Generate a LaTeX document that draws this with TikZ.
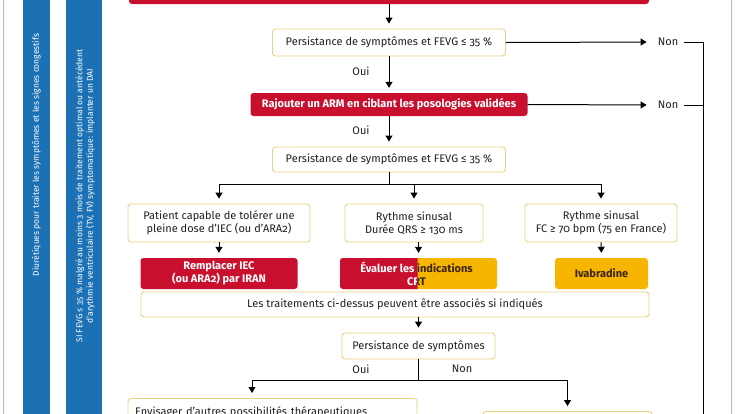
\documentclass[tikz,border=0pt]{standalone}
\usepackage{fontspec}
\setmainfont{Fira Sans}[Numbers=OldStyle]
\usetikzlibrary{arrows.meta}
\definecolor{rougeic}{RGB}{200,16,46}
\definecolor{jauneic}{RGB}{246,182,0}
\definecolor{bordic}{RGB}{234,208,130}
\definecolor{bleuic}{RGB}{28,112,180}
\definecolor{cadreic}{RGB}{160,192,220}
\definecolor{texteic}{RGB}{35,31,32}
\definecolor{brunic}{RGB}{60,35,10}

\begin{document}
\begin{tikzpicture}[x=1pt, y=-1pt,
  qbox/.style={draw=bordic, fill=white, line width=0.9pt, rounded corners=3pt,
               text=texteic, font=\fontsize{11}{13}\selectfont, align=center, inner sep=2pt},
  redb/.style={fill=rougeic, text=white, rounded corners=3pt,
               font=\fontsize{11}{13}\selectfont\bfseries, align=center, inner sep=2pt},
  orab/.style={fill=jauneic, text=brunic, rounded corners=3pt,
               font=\fontsize{11}{13}\selectfont\bfseries, align=center, inner sep=2pt},
  lab/.style={text=texteic, font=\fontsize{11}{13}\selectfont, inner sep=0pt},
  non/.style={lab, inner xsep=6pt},
  sidet/.style={rotate=90, text=white, font=\fontsize{8.5}{10.5}\selectfont, align=center, inner sep=0pt},
  arr/.style={-{Triangle[length=6pt, width=7pt]}, line width=1pt, shorten >=5pt},
  ligne/.style={line width=1pt},
]
\useasboundingbox (0,0) rectangle (735,413);
\clip (0,0) rectangle (735,413);

% Cadre et bandeaux lateraux
\draw[cadreic, line width=1pt] (3,-5) -- (3,420);
\draw[cadreic, line width=1pt] (731,-5) -- (731,420);
\fill[bleuic] (23,-5) rectangle (50,420);
\fill[bleuic] (66,-5) rectangle (102,420);
\node[sidet] (diur) at (36.5,155) {Diurétiques pour traiter les symptômes et les signes congestifs};
\node[sidet] (dai) at (85,196)
  {SI FEVG ≤ 35 \% malgré au moins 3 mois de traitement optimal ou antécédent\\
   d’arythmie ventriculaire (TV, FV) symptomatique: implanter un DAI};

% Boite rouge du haut (coupee)
\node[redb, minimum width=520, minimum height=22] (haut) at (389,-7) {};

% Premiere question
\node[qbox, minimum width=233, minimum height=27] (pers1) at (389,42.5)
  {Persistance de symptômes et FEVG ≤ 35 \%};
\node[non] (non1) at (668,42) {Non};

% ARM
\node[redb, minimum width=277, minimum height=23] (arm) at (389,104.5)
  {Rajouter un ARM en ciblant les posologies validées};
\node[non] (non2) at (668,105) {Non};
\node[lab] (oui1) at (361,71) {Oui};
\node[lab] (oui2) at (361,130) {Oui};

% Deuxieme question
\node[qbox, minimum width=233, minimum height=25] (pers2) at (389,159.5)
  {Persistance de symptômes et FEVG ≤ 35 \%};
\coordinate (j1) at (389,184);

% Trois branches
\node[qbox, minimum width=182, minimum height=38] (pat) at (219,223)
  {Patient capable de tolérer une\\pleine dose d’IEC (ou d’ARA2)};
\node[qbox, minimum width=138, minimum height=38] (qrs) at (414,223)
  {Rythme sinusal\\Durée QRS ≥ 130 ms};
\node[qbox, minimum width=152, minimum height=38] (fc) at (601,223)
  {Rythme sinusal\\FC ≥ 70 bpm (75 en France)};

\node[redb, minimum width=157, minimum height=31] (iran) at (219,273.5)
  {Remplacer IEC\\(ou ARA2) par IRAN};
\node[orab, minimum width=157, minimum height=31] (crt) at (418.5,273.5) {};
\coordinate (crtsep) at (417.5,273.5);
\begin{scope}
  \clip (crt.north west) rectangle (crtsep |- crt.south);
  \node[redb, minimum width=157, minimum height=31] (crtr) at (crt) {};
  \node[redb, fill=none] (crttr) at ([xshift=-2pt]crt.center) {Évaluer les indications\\CRT};
\end{scope}
\begin{scope}
  \clip (crtsep |- crt.north) rectangle (crt.south east);
  \node[orab, fill=none] (crtto) at ([xshift=-2pt]crt.center) {Évaluer les indications\\CRT};
\end{scope}
\node[orab, minimum width=93, minimum height=31] (ivab) at (601.5,273.5) {Ivabradine};

\node[qbox, minimum width=508, minimum height=25] (assoc) at (395,304.5)
  {Les traitements ci-dessus peuvent être associés si indiqués};

% Troisieme question
\node[qbox, minimum width=153, minimum height=26] (pers3) at (418.5,346)
  {Persistance de symptômes};
\coordinate (j2) at (418.5,380);
\node[lab] (oui3) at (361,369) {Oui};
\node[lab] (non3) at (462,369) {Non};

\node[qbox, anchor=north, text width=275, align=left, inner xsep=7pt, inner ysep=8pt]
  (envis) at (272.5,398) {Envisager d’autres possibilités thérapeutiques};
\node[qbox, anchor=north, minimum width=169, minimum height=30] (suivi) at (567.5,411) {};
\coordinate (bus) at (703,420);

% Fleches
\draw[arr] (haut.south) -- (pers1.north);
\draw[arr] (pers1.south) -- (arm.north);
\draw[arr] (pers1.east) -- (non1.west);
\draw[arr] (arm.east) -- (non2.west);
\draw[ligne] (non1.east) -| (bus);
\draw[ligne] (non2.east) -- (non2.east -| bus);
\draw[arr] (arm.south) -- (pers2.north);

\draw[ligne] (pers2.south) -- (j1);
\draw[arr] (j1) -| (pat.north);
\draw[arr] (j1) -| (qrs.north);
\draw[arr] (j1) -| (fc.north);

\draw[arr] (pat.south) -- (iran.north);
\draw[arr] (qrs.south -| crt.north) -- (crt.north);
\draw[arr] (fc.south) -- (ivab.north);

\draw[arr] (assoc.south -| pers3.north) -- (pers3.north);
\draw[ligne] (pers3.south) -- (j2);
\draw[arr] (j2) -| ([xshift=-20.5pt]envis.north);
\draw[arr] (j2) -| (suivi.north);

\end{tikzpicture}
\end{document}
